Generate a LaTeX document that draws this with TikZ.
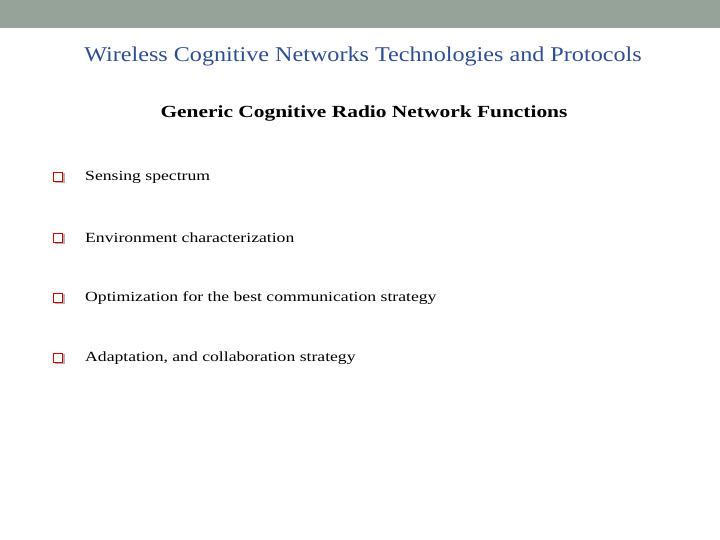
\documentclass[tikz,border=0pt]{standalone}
\usepackage{fontspec}
\setmainfont{Liberation Serif}
\newfontfamily\wideA[FakeStretch=1.15]{Liberation Serif}
\newfontfamily\wideB[FakeStretch=1.26]{Liberation Serif}
\begin{document}
\begin{tikzpicture}[x=1pt,y=-1pt,
  item/.style={anchor=west,inner sep=0pt,font=\wideB\fontsize{14}{16}\selectfont},
  bul/.style={draw=red!80!black,line width=1.4pt,minimum size=9.5pt,inner sep=0pt,fill=white}]
\useasboundingbox (0,0) rectangle (720,540);
\fill[white] (0,0) rectangle (720,540);
\fill[fill={rgb,255:red,149;green,163;blue,153}] (0,0) rectangle (720,28);
\node[text={rgb,255:red,46;green,79;blue,143},font=\wideA\fontsize{21}{24}\selectfont] (title) at (363,56) {Wireless Cognitive Networks Technologies and Protocols};
\node[font=\wideB\bfseries\fontsize{17}{20}\selectfont] (sub) at (364,113) {Generic Cognitive Radio Network Functions};
\foreach \y/\t [count=\i] in {177/Sensing spectrum,238/Environment characterization,298/Optimization for the best communication strategy,358/{Adaptation, and collaboration strategy}}{
  \fill[gray!60] (55,\y-4) rectangle (65,\y+6);
  \node[bul] (b\i) at (58,\y) {};
  \node[item] (t\i) at (85,\y) {\t};
}
\end{tikzpicture}
\end{document}
